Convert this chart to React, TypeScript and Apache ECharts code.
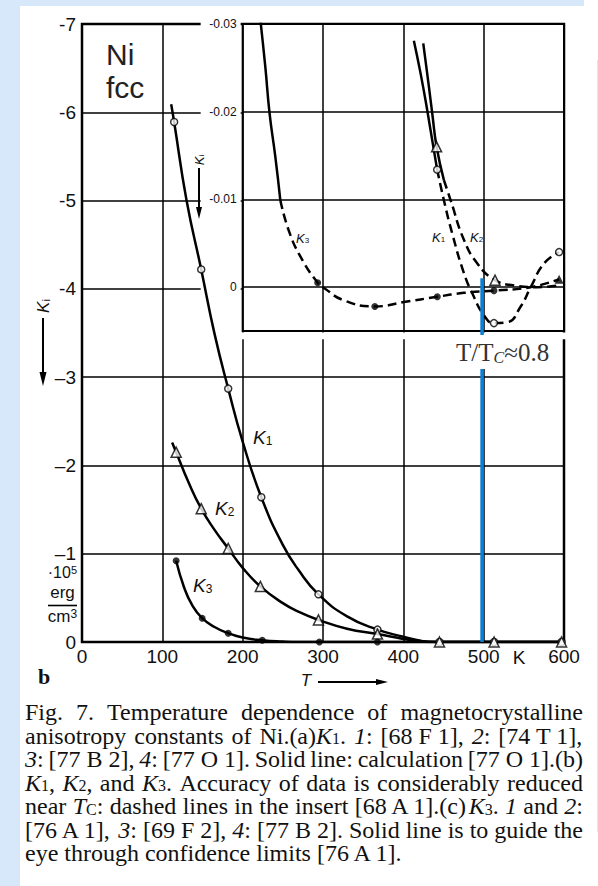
import React, { useEffect, useRef } from "react";
import * as echarts from "echarts";

// ---------------- data ----------------
// main panel: temperature T (K) vs K_i (10^5 erg/cm^3)
const k1MainCurve = [[111, -6.09], [114.7, -5.89], [130, -5.01], [148.4, -4.22], [165, -3.49], [182, -2.87], [200, -2.27], [223.2, -1.64], [250, -1.1], [270, -0.81], [294.3, -0.54], [330, -0.29], [367.8, -0.14], [400, -0.06], [421, -0.015], [440, 0], [600, 0]];
const k2MainCurve = [[112.2, -2.26], [117.2, -2.15], [133, -1.8], [148.4, -1.51], [165, -1.27], [182, -1.06], [200, -0.84], [222, -0.63], [250, -0.44], [270, -0.34], [294.3, -0.25], [330, -0.15], [367.8, -0.09], [400, -0.035], [421, -0.01], [440, 0], [600, 0]];
const k3MainCurve = [[117.2, -0.92], [127, -0.62], [137, -0.42], [149.6, -0.27], [165, -0.17], [182, -0.1], [200, -0.05], [224.4, -0.02], [250, -0.005], [270, 0], [600, 0]];
const k1MainPoints = [[114.7, -5.89], [148.4, -4.22], [182, -2.87], [223.2, -1.64], [294.3, -0.54], [367.8, -0.14], [445, 0], [513, 0], [597, 0]];
const k2MainPoints = [[117.2, -2.15], [148.4, -1.51], [182, -1.06], [222, -0.63], [294.3, -0.25], [367.8, -0.09], [445, 0], [513, 0], [597, 0]];
const k3MainPoints = [[117.2, -0.92], [149.6, -0.27], [182, -0.1], [224.4, -0.02], [295.5, 0], [367.8, 0]];

// insert: same T scale, K_i near T_C
const k1InsetSolid = [[413.1, -0.0281], [421.4, -0.0244], [429.7, -0.0202], [442.1, -0.0134]];
const k1InsetDashed = [[442.1, -0.0134], [450.5, -0.0099], [460.9, -0.0061], [475.4, -0.0016], [485.8, 0.0007], [500.3, 0.0032], [512.8, 0.0041], [529.5, 0.004], [546.1, 0.0022], [558.6, 0], [575.2, -0.0027], [593.9, -0.004]];
const k2InsetSolid = [[424.8, -0.0278], [431.9, -0.0228], [436, -0.0198], [441.4, -0.016], [450.5, -0.0122]];
const k2InsetDashed = [[450.5, -0.0122], [458.9, -0.0099], [475.4, -0.0054], [492.1, -0.0027], [514.1, -0.0008], [537.8, -0.0002], [566.9, 0], [593.9, -0.0002]];
const k3InsetSolid = [[222, -0.0305], [228.2, -0.0251], [233.5, -0.0198], [240.6, -0.0149], [246.9, -0.0099]];
const k3InsetDashed = [[246.9, -0.0099], [257.2, -0.0065], [271.8, -0.0035], [293.4, -0.0005], [302.1, 0.00015], [325.8, 0.0015], [364.5, 0.0022], [400.6, 0.0017], [442.3, 0.0011], [475.4, 0.00065], [512.8, 0.0004], [558.6, 0], [593.9, -0.0009]];
const k1InsetPoints = [[442.1, -0.0134], [512.8, 0.0041], [593.9, -0.004]];
const k2InsetPoints = [[441.4, -0.016], [514.1, -0.0008]];
const k3InsetPoints = [[293.4, -0.0005], [364.5, 0.0022], [442.3, 0.0011], [512.8, 0.0004]];
const k3InsetTriangle = [[593.9, -0.0009]];

// T / T_C ~ 0.8 marker
const tcMarker = [[498, -4.12], [498, 0]];

// axis ranges and ticks
const mainX = { min: 0, max: 600, step: 100 };
const mainY = { min: -7, max: 0, step: 1 };
const insetX = { min: 200, max: 600, step: 100 };
const insetY = { min: -0.03, max: 0.005, step: 0.01 };
const enDashTicks = [-1, -2, -3];

const captionLines: string[][] = [
  ["Fig.", "7.", "Temperature", "dependence", "of", "magnetocrystalline"],
  ["anisotropy", "constants", "of", "Ni.(a){i|K}{s|1}.", "{i|1}:", "[68 F 1],", "{i|2}:", "[74 T 1],"],
  ["{i|3}:", "[77 B 2],", "{i|4}:", "[77 O 1].", "Solid", "line:", "calculation", "[77 O 1].(b)"],
  ["{i|K}{s|1},", "{i|K}{s|2},", "and", "{i|K}{s|3}.", "Accuracy", "of", "data", "is", "considerably", "reduced"],
  ["near", "{i|T}{s|C}:", "dashed", "lines", "in", "the", "insert", "[68 A 1].(c){i|K}{s|3}.", "{i|1}", "and", "{i|2}:"],
  ["[76 A 1],", "{i|3}:", "[69 F 2],", "{i|4}:", "[77 B 2].", "Solid", "line", "is", "to", "guide", "the"],
  ["eye", "through", "confidence", "limits", "[76 A 1]."],
];

// ---------------- styling ----------------
const NARROW = "'Liberation Sans', Arial, sans-serif";
const SERIF = "'Liberation Serif', 'Times New Roman', serif";
const SANS = "'Liberation Sans', Arial, sans-serif";
const INK = "#111";

const MAIN = { left: 82, top: 24, width: 482, height: 618 };
const INSET = { left: 82 + (482 * 200) / 600, top: 24, width: (482 * 400) / 600, height: 307 };

const capBase = { fontSize: 24, fontFamily: SERIF, lineHeight: 22 };
const capRich = {
  i: { fontStyle: "italic", fontSize: 24, fontFamily: SERIF, lineHeight: 22 },
  s: { fontSize: 16, fontFamily: SERIF, lineHeight: 10, verticalAlign: "bottom" },
};

function measure(text: string, base: any, rich: any): number {
  try {
    const el = new (echarts.graphic as any).Text({ style: { text, ...base, rich } });
    const w = el.getBoundingRect().width;
    if (isFinite(w) && w > 0) return w;
  } catch (e) {}
  return text.replace(/\{[a-z]+\|/g, "").replace(/\}/g, "").length * base.fontSize * 0.45;
}

function kLabel(x: number, y: number, sub: string, size: number, extra: any = {}) {
  const { center, ...rest } = extra;
  return {
    type: "text",
    x,
    y,
    z: 30,
    ...rest,
    style: {
      text: "{k|K}{s|" + sub + "}",
      fontSize: size,
      fontFamily: NARROW,
      lineHeight: size,
      fill: INK,
      align: center ? "center" : "left",
      textAlign: center ? "center" : "left",
      verticalAlign: "middle",
      textVerticalAlign: "middle",
      rich: {
        k: { fontStyle: "italic", fontSize: size, fontFamily: NARROW, lineHeight: size },
        s: { fontSize: Math.round(size * 0.65), fontFamily: NARROW, lineHeight: Math.round(size * 0.55), verticalAlign: "bottom" },
      },
    },
  };
}

function arrowDown(x: number, y1: number, y2: number, head: number, half: number) {
  return [
    { type: "line", z: 30, shape: { x1: x, y1, x2: x, y2: y2 - head + 2 }, style: { stroke: "#000", lineWidth: 2 } },
    { type: "polygon", z: 30, shape: { points: [[x - half, y2 - head], [x + half, y2 - head], [x, y2]] }, style: { fill: "#000" } },
  ];
}

function txt(x: number, y: number, text: string, font: any, align = "left", extra: any = {}) {
  return {
    type: "text",
    x,
    y,
    z: 30,
    ...extra,
    style: {
      text,
      fill: INK,
      align,
      textAlign: align,
      verticalAlign: "middle",
      textVerticalAlign: "middle",
      ...font,
    },
  };
}

function buildCaption(): any[] {
  const els: any[] = [];
  const X0 = 25;
  const W = 558;
  captionLines.forEach((words, li) => {
    const y = 712 + li * 23.5;
    const widths = words.map((w) => measure(w, capBase, capRich));
    const total = widths.reduce((a, b) => a + b, 0);
    const last = li === captionLines.length - 1;
    const gap = last ? capBase.fontSize * 0.25 : (W - total) / (words.length - 1);
    let x = X0;
    words.forEach((w, k) => {
      els.push({
        type: "text",
        x,
        y,
        z: 30,
        style: { text: w, ...capBase, rich: capRich, fill: INK, align: "left", textAlign: "left", verticalAlign: "middle", textVerticalAlign: "middle" },
      });
      x += widths[k] + gap;
    });
  });
  return els;
}

function buildOption(): any {
  const lineStyle = { color: "#000", width: 2.5 };
  const dashed = { color: "#000", width: 2.5, type: [9, 5] };
  const openItem = { color: "#fff", borderColor: "#000", borderWidth: 1.5 };
  const split = { show: true, lineStyle: { color: "#000", width: 1.5 } };

  const mainLine = (data: number[][]) => ({
    type: "line", xAxisIndex: 0, yAxisIndex: 0, data, smooth: 0.5,
    symbol: "none", lineStyle, z: 7, silent: true,
  });
  const insetLine = (data: number[][], style: any) => ({
    type: "line", xAxisIndex: 1, yAxisIndex: 1, data, smooth: 0.5,
    symbol: "none", lineStyle: style, z: 7, silent: true,
  });
  const pts = (data: number[][], axis: number, symbol: string, size: number, itemStyle: any) => ({
    type: "scatter", xAxisIndex: axis, yAxisIndex: axis, data, symbol, symbolSize: size, itemStyle,
    z: 8, silent: true,
  });

  const graphics: any[] = [
    // white strip between the insert and the main panel's grid
    { type: "rect", z: 4, shape: { x: 239, y: 332.4, width: 330, height: 6.8 }, style: { fill: "#fff" } },
    txt(106, 54.5, "Ni", { fontSize: 30, fontFamily: SANS, fill: "#222" }),
    txt(106, 87.6, "fcc", { fontSize: 30, fontFamily: SANS, fill: "#222" }),
    kLabel(253, 437, "1", 19),
    kLabel(215, 508, "2", 19),
    kLabel(193, 585, "3", 19),
    kLabel(296, 238, "3", 13),
    kLabel(432, 237, "1", 13),
    kLabel(470, 237, "2", 13),
    kLabel(199, 160, "i", 13, { center: true, rotation: Math.PI / 2 }),
    ...arrowDown(199, 168, 219, 12, 3),
    kLabel(43, 306, "i", 17, { center: true, rotation: Math.PI / 2 }),
    ...arrowDown(43, 318, 386, 14, 3.5),
    // T axis name and arrow
    txt(306, 680.5, "T", { fontSize: 17, fontFamily: NARROW, fontStyle: "italic" }, "center"),
    { type: "line", z: 30, shape: { x1: 318, y1: 682, x2: 378, y2: 682 }, style: { stroke: "#000", lineWidth: 2 } },
    { type: "polygon", z: 30, shape: { points: [[376, 679], [376, 685], [388, 682]] }, style: { fill: "#000" } },
    txt(519, 657, "K", { fontSize: 19, fontFamily: NARROW }, "center"),
    txt(38, 676.6, "b", { fontSize: 22, fontFamily: SERIF, fontWeight: "bold" }),
    // unit block
    txt(77, 572.5, "·10{p|5}", {
      fontSize: 16, fontFamily: NARROW, lineHeight: 16,
      rich: { p: { fontSize: 11, fontFamily: NARROW, lineHeight: 6, verticalAlign: "top" } },
    }, "right"),
    txt(62.5, 592.5, "erg", { fontSize: 17, fontFamily: NARROW, lineHeight: 16 }, "center"),
    { type: "line", z: 30, shape: { x1: 48, y1: 605.5, x2: 77, y2: 605.5 }, style: { stroke: "#000", lineWidth: 1.6 } },
    txt(62.5, 616, "cm{p|3}", {
      fontSize: 17, fontFamily: NARROW, lineHeight: 16,
      rich: { p: { fontSize: 12, fontFamily: NARROW, lineHeight: 12, verticalAlign: "top" } },
    }, "center"),
    // T/Tc label on white box
    {
      type: "text", x: 454, y: 352, z: 40,
      style: {
        text: "T/T{c|C}≈0.8",
        fontSize: 25, fontFamily: SERIF, fill: "#333", lineHeight: 26,
        backgroundColor: "#fff", padding: [4, 4, 4, 2],
        align: "left", textAlign: "left", verticalAlign: "middle", textVerticalAlign: "middle",
        rich: { c: { fontSize: 16, fontFamily: SERIF, fontStyle: "italic", lineHeight: 12, verticalAlign: "bottom", fill: "#333" } },
      },
    },
    ...buildCaption(),
  ];

  return {
    animation: false,
    backgroundColor: "transparent",
    grid: [
      { left: MAIN.left, top: MAIN.top, width: MAIN.width, height: MAIN.height, show: true, borderColor: "#000", borderWidth: 2.5, backgroundColor: "transparent", z: 0 },
      { left: INSET.left, top: INSET.top, width: INSET.width, height: INSET.height, show: true, borderColor: "#000", borderWidth: 2, backgroundColor: "#fff", z: 5 },
    ],
    xAxis: [
      {
        gridIndex: 0, type: "value", min: mainX.min, max: mainX.max, interval: mainX.step,
        axisLine: { show: false }, axisTick: { show: false }, splitLine: split,
        axisLabel: { fontSize: 19, fontFamily: NARROW, color: INK, margin: 5, formatter: (v: number) => String(v) },
      },
      {
        gridIndex: 1, type: "value", min: insetX.min, max: insetX.max, interval: insetX.step, z: 6,
        axisLine: { show: false }, axisTick: { show: false }, splitLine: split, axisLabel: { show: false },
      },
    ],
    yAxis: [
      {
        gridIndex: 0, type: "value", min: mainY.min, max: mainY.max, interval: mainY.step, inverse: true,
        axisLine: { show: false }, axisTick: { show: false }, splitLine: split,
        axisLabel: {
          fontSize: 19, fontFamily: NARROW, color: INK, margin: 6, lineHeight: 14,
          formatter: (v: number) => (v === 0 ? "0" : (enDashTicks.indexOf(v) >= 0 ? "\u2013" : "-") + Math.abs(v)),
        },
      },
      {
        gridIndex: 1, type: "value", min: insetY.min, max: insetY.max, interval: insetY.step, inverse: true, z: 6,
        axisLine: { show: false }, axisTick: { show: false }, splitLine: split,
        axisLabel: {
          margin: 2,
          formatter: (v: number) => {
            const r = Math.round(v * 100);
            if (Math.abs(v * 100 - r) > 1e-6) return "";
            return "{b|" + (r === 0 ? "0" : "-0.0" + Math.abs(r)) + "}";
          },
          rich: { b: { width: 36, align: "right", fontSize: 12, fontFamily: NARROW, color: INK, backgroundColor: "#fff", padding: [3, 4, 3, 0] } },
        },
      },
    ],
    series: [
      mainLine(k1MainCurve),
      mainLine(k2MainCurve),
      mainLine(k3MainCurve),
      pts(k1MainPoints, 0, "circle", 7, openItem),
      pts(k2MainPoints, 0, "triangle", 10, openItem),
      pts(k3MainPoints, 0, "circle", 7, { color: "#000" }),
      insetLine(k1InsetSolid, lineStyle),
      insetLine(k1InsetDashed, dashed),
      insetLine(k2InsetSolid, lineStyle),
      insetLine(k2InsetDashed, dashed),
      insetLine(k3InsetSolid, lineStyle),
      insetLine(k3InsetDashed, dashed),
      pts(k1InsetPoints, 1, "circle", 7, openItem),
      pts(k2InsetPoints, 1, "triangle", 10, openItem),
      pts(k3InsetPoints, 1, "circle", 7, { color: "#000" }),
      pts(k3InsetTriangle, 1, "triangle", 9, { color: "#000" }),
      {
        type: "line", xAxisIndex: 0, yAxisIndex: 0, data: tcMarker, symbol: "none", z: 10, silent: true,
        lineStyle: { color: "#0a7fd6", width: 3.5 },
      },
    ],
    graphic: { elements: graphics },
  };
}

export default function App() {
  const ref = useRef<HTMLDivElement>(null);
  useEffect(() => {
    if (!ref.current) return;
    const chart = echarts.init(ref.current, undefined, { renderer: "svg" });
    chart.setOption(buildOption());
    return () => chart.dispose();
  }, []);
  return (
    <div style={{ position: "absolute", left: 0, top: 0, width: 598, height: 886, background: "#d6e8fa", overflow: "hidden" }}>
      <div style={{ position: "absolute", left: 20, top: 6, width: 578, height: 880, background: "#fff" }} />
      <div style={{ position: "absolute", left: 584, top: 0, width: 14, height: 6, background: "#fff" }} />
      <div style={{ position: "absolute", left: 597, top: 60, width: 1, height: 772, background: "#d6e8fa" }} />
      <div ref={ref} style={{ position: "absolute", left: 0, top: 0, width: 598, height: 886 }} />
    </div>
  );
}
